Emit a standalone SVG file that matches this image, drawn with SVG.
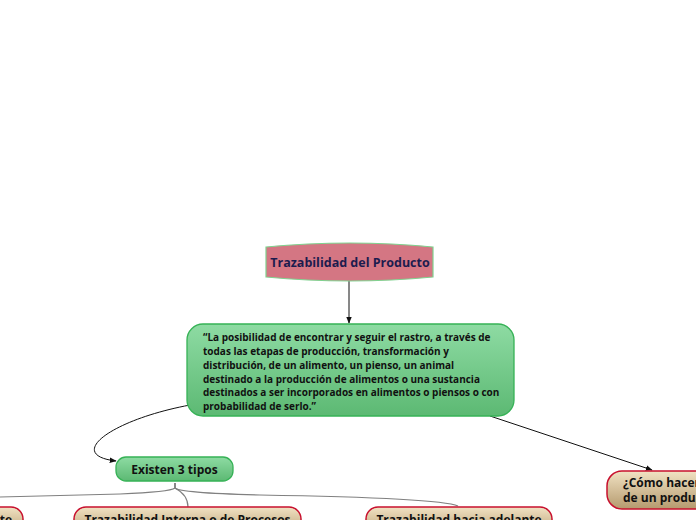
<svg xmlns="http://www.w3.org/2000/svg" width="696" height="520" viewBox="0 0 696 520">
<defs>
<linearGradient id="gGreen" x1="0" y1="0" x2="0" y2="1">
<stop offset="0" stop-color="#8edba3"/><stop offset="1" stop-color="#5cb973"/>
</linearGradient>
<linearGradient id="gTan" x1="0" y1="0" x2="0" y2="1">
<stop offset="0" stop-color="#f1e2c3"/><stop offset="1" stop-color="#b59a6e"/>
</linearGradient>
<marker id="arr" viewBox="0 0 10 10" refX="9" refY="5" markerWidth="7" markerHeight="7" orient="auto">
<path d="M0,1 L10,5 L0,9 Z" fill="#111"/>
</marker>
<style>
.t{font-family:"Open Sans","Noto Sans","DejaVu Sans",sans-serif;font-weight:bold;}
.green{fill:url(#gGreen);stroke:#36b256;stroke-width:1.3;}
.tan{fill:url(#gTan);stroke:#c8102e;stroke-width:1.5;}
.dark{fill:none;stroke:#111;stroke-width:1;}
.gray{fill:none;stroke:#808080;stroke-width:1.2;}
</style>
</defs>
<g id="connectors">
<path class="dark" d="M349,281 L349,323" marker-end="url(#arr)"/>
<path class="dark" d="M190,405 C110,420 65,455 116,461" marker-end="url(#arr)"/>
<path class="dark" d="M490,416 L652,470" marker-end="url(#arr)"/>
<path class="gray" d="M175,483 L175,488 Q170,492 120,494 L0,497"/>
<path class="gray" d="M175,483 L175,488 Q188,495 188,507"/>
<path class="gray" d="M175,483 L175,488 Q180,493 260,495 Q440,498 458,506"/>
</g>
<g id="root">
<path d="M266,247 Q350,239 433,247 L433,277 Q350,285 266,277 Z" fill="#d47683" stroke="#7fd28f" stroke-width="1.2"/>
<text class="t" x="350" y="266.5" text-anchor="middle" font-size="12.5" fill="#1c1c4e">Trazabilidad del Producto</text>
</g>
<g id="definition">
<rect class="green" x="187" y="324" width="327" height="92" rx="16"/>
<text class="t" font-size="10" fill="#111">
<tspan x="203" y="341">“La posibilidad de encontrar y seguir el rastro, a través de</tspan>
<tspan x="203" y="355">todas las etapas de producción, transformación y</tspan>
<tspan x="203" y="369">distribución, de un alimento, un pienso, un animal</tspan>
<tspan x="203" y="382.5">destinado a la producción de alimentos o una sustancia</tspan>
<tspan x="203" y="396">destinados a ser incorporados en alimentos o piensos o con</tspan>
<tspan x="203" y="409.5">probabilidad de serlo.”</tspan>
</text>
</g>
<g id="tipos">
<rect class="green" x="116" y="457" width="117" height="24" rx="10"/>
<text class="t" x="174.5" y="473.5" text-anchor="middle" font-size="12" fill="#111">Existen 3 tipos</text>
</g>
<g id="como">
<rect class="tan" x="607" y="471" width="140" height="38" rx="15"/>
<text class="t" font-size="12" fill="#111">
<tspan x="623" y="487">¿Cómo hacer</tspan>
<tspan x="623" y="502">de un producto</tspan>
</text>
</g>
<g id="atras">
<rect class="tan" x="-120" y="507" width="143" height="30" rx="12"/>
<text class="t" x="12" y="524" text-anchor="end" font-size="12" fill="#111">te</text>
</g>
<g id="interna">
<rect class="tan" x="74" y="507" width="227" height="30" rx="12"/>
<text class="t" x="187.5" y="524" text-anchor="middle" font-size="12" fill="#111">Trazabilidad Interna o de Procesos</text>
</g>
<g id="adelante">
<rect class="tan" x="366" y="507" width="186" height="30" rx="12"/>
<text class="t" x="459" y="524" text-anchor="middle" font-size="12" fill="#111">Trazabilidad hacia adelante</text>
</g>
</svg>
